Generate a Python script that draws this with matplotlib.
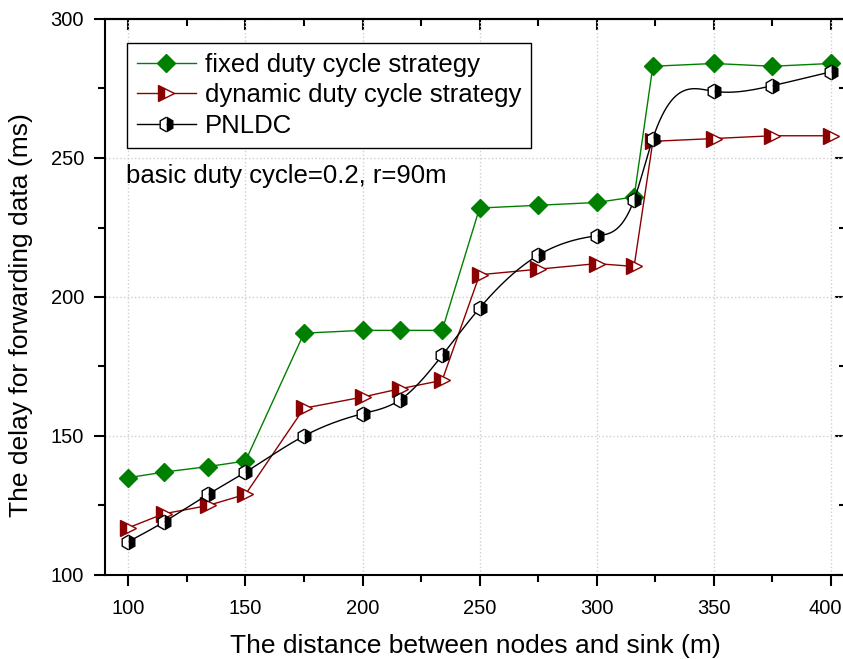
"""Delay for forwarding data vs. distance between nodes and sink."""

import matplotlib

matplotlib.use("Agg")
import matplotlib.pyplot as plt
import numpy as np
from matplotlib.lines import Line2D
from matplotlib.ticker import FuncFormatter, MultipleLocator

plt.rcParams.update(
    {
        "font.family": ["Liberation Sans", "DejaVu Sans"],
        "axes.linewidth": 1.5,
    }
)

# distance to sink (m)
distance = [100, 115, 134, 150, 175, 200, 216, 234, 250, 275, 300, 316, 324, 350, 375, 400]

# delay (ms)
fixed_delay = [135, 137, 139, 141, 187, 188, 188, 188, 232, 233, 234, 236, 283, 284, 283, 284]
dynamic_delay = [117, 122, 125, 129, 160, 164, 167, 170, 208, 210, 212, 211, 256, 257, 258, 258]
pnldc_delay = [112, 119, 129, 137, 150, 158, 163, 179, 196, 215, 222, 235, 257, 274, 276, 281]

labels = ["fixed duty cycle strategy", "dynamic duty cycle strategy", "PNLDC"]
note = "basic duty cycle=0.2, r=90m"

GREEN = "#008000"
RED = "#8b0000"


def natural_spline(x, y, n=600):
    """Natural cubic spline through (x, y), used only for the connecting line."""
    x = np.asarray(x, float)
    y = np.asarray(y, float)
    h = np.diff(x)
    k = len(x)
    a = np.zeros((k, k))
    b = np.zeros(k)
    a[0, 0] = a[-1, -1] = 1.0
    for i in range(1, k - 1):
        a[i, i - 1] = h[i - 1]
        a[i, i] = 2 * (h[i - 1] + h[i])
        a[i, i + 1] = h[i]
        b[i] = 6 * ((y[i + 1] - y[i]) / h[i] - (y[i] - y[i - 1]) / h[i - 1])
    m = np.linalg.solve(a, b)
    xs = np.linspace(x[0], x[-1], n)
    idx = np.clip(np.searchsorted(x, xs) - 1, 0, k - 2)
    x0, x1 = x[idx], x[idx + 1]
    hh = x1 - x0
    t0, t1 = x1 - xs, xs - x0
    ys = (
        m[idx] * t0**3 / (6 * hh)
        + m[idx + 1] * t1**3 / (6 * hh)
        + (y[idx] / hh - m[idx] * hh / 6) * t0
        + (y[idx + 1] / hh - m[idx + 1] * hh / 6) * t1
    )
    return xs, ys


fig = plt.figure(figsize=(8.43, 6.59), dpi=100)
ax = fig.add_axes([105 / 843, 84 / 659, 741 / 843, 556 / 659])

ax.plot(
    distance, fixed_delay, "-", color=GREEN, lw=1.0,
    marker="D", ms=8.7, mfc=GREEN, mec=GREEN, mew=1.0, zorder=3,
)
ax.plot(
    distance, dynamic_delay, "-", color=RED, lw=1.0,
    marker=">", ms=11, fillstyle="left", mfc=RED, mfcalt="white",
    mec=RED, mew=1.0, zorder=3,
)
sx, sy = natural_spline(distance, pnldc_delay)
ax.plot(sx, sy, "-", color="black", lw=1.0, zorder=3)
ax.plot(
    distance, pnldc_delay, ls="none",
    marker="h", ms=10.5, fillstyle="right", mfc="black", mfcalt="white",
    mec="black", mew=1.0, zorder=4,
)

handles = [
    Line2D([], [], color=GREEN, lw=1.0, marker="D", ms=8.7, mfc=GREEN, mec=GREEN),
    Line2D([], [], color=RED, lw=1.0, marker=">", ms=11, fillstyle="left",
           mfc=RED, mfcalt="white", mec=RED),
    Line2D([], [], color="black", lw=1.0, marker="h", ms=10.5, fillstyle="right",
           mfc="black", mfcalt="white", mec="black"),
]
leg = ax.legend(
    handles, labels, loc="upper left", bbox_to_anchor=(0.0297, 0.957),
    borderaxespad=0, fontsize=18.5, frameon=True, fancybox=False,
    edgecolor="black", framealpha=1, handlelength=2.3, handletextpad=0.35,
    labelspacing=0.26, borderpad=0.38,
)
leg.get_frame().set_linewidth(1.0)

ax.text(0.029, 0.717, note, transform=ax.transAxes, fontsize=18.5, va="center")

ax.set_xlim(90, 406.5)
ax.set_ylim(100, 300)
ax.xaxis.set_major_locator(MultipleLocator(50))
ax.xaxis.set_minor_locator(MultipleLocator(25))
ax.yaxis.set_major_locator(MultipleLocator(50))
ax.yaxis.set_minor_locator(MultipleLocator(25))
# the last x label sits against the right edge, so it is drawn separately below
x_last = distance[-1]
ax.xaxis.set_major_formatter(
    FuncFormatter(lambda v, _: "" if v >= x_last else f"{v:.0f}")
)
ax.tick_params(which="both", width=1.5, labelsize=14.5, direction="out")
ax.tick_params(which="major", length=8)
ax.tick_params(which="minor", length=5)
ax.tick_params(axis="x", which="both", pad=9)
ax.tick_params(axis="y", which="both", pad=7)
ax.annotate(
    f"{x_last}", xy=(x_last, 0), xycoords=ax.get_xaxis_transform(),
    xytext=(8, -17), textcoords="offset points", ha="right", va="top",
    fontsize=14.5,
)
# inward ticks on the top and right edges, as in the original
top = ax.secondary_xaxis("top")
top.xaxis.set_major_locator(MultipleLocator(50))
top.xaxis.set_minor_locator(MultipleLocator(25))
top.tick_params(which="both", direction="in", width=1.5, labeltop=False)
top.tick_params(which="major", length=8)
top.tick_params(which="minor", length=5)
right = ax.secondary_yaxis("right")
right.yaxis.set_major_locator(MultipleLocator(50))
right.yaxis.set_minor_locator(MultipleLocator(25))
right.tick_params(which="both", direction="in", width=1.5, labelright=False)
right.tick_params(which="major", length=8)
right.tick_params(which="minor", length=5)
ax.grid(True, which="major", color="#cfcfcf", ls=":", lw=1.0)

ax.set_xlabel("The distance between nodes and sink (m)", fontsize=19, labelpad=12)
ax.set_ylabel("The delay for forwarding data (ms)", fontsize=19)
ax.yaxis.set_label_coords(-0.097, 0.468)

fig.savefig("out.png", dpi=100)
